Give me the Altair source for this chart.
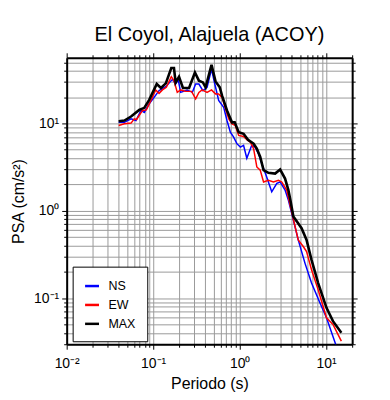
import altair as alt
import pandas as pd

# ---- data ----
ns_T = [0.0399, 0.0465, 0.0555, 0.0632, 0.0723, 0.0789, 0.090, 0.1026, 0.117, 0.140,
        0.167, 0.182, 0.195, 0.208, 0.247, 0.284, 0.310, 0.338, 0.376, 0.420,
        0.473, 0.516, 0.572, 0.654, 0.714, 0.781, 0.852, 0.929, 1.02, 1.11,
        1.21, 1.38, 1.51, 1.65, 1.80, 2.05, 2.35, 2.69, 2.94, 3.35,
        3.66, 4.18, 4.76, 5.69, 6.78, 8.47, 10.1, 13.1, 14.5]
ns_psa = [10.3, 10.3, 11.3, 10.8, 14.1, 13.4, 16.8, 19.9, 23.8, 26.4,
          32.0, 28.3, 31.5, 22.7, 24.2, 22.7, 28.3, 28.3, 23.8, 25.9,
          42.0, 28.3, 18.3, 15.3, 10.8, 7.96, 6.98, 5.87, 5.37, 5.62,
          4.0, 5.62, 5.37, 4.52, 3.48, 2.45, 1.65, 2.06, 2.14, 1.73,
          1.33, 0.785, 0.465, 0.252, 0.149, 0.0885, 0.0597, 0.0283, 0.021]

ew_T = [0.0399, 0.0465, 0.0555, 0.0605, 0.0643, 0.0753, 0.0834, 0.0942, 0.107, 0.117,
        0.128, 0.142, 0.162, 0.174, 0.190, 0.208, 0.238, 0.278, 0.310, 0.338,
        0.368, 0.420, 0.473, 0.526, 0.572, 0.626, 0.686, 0.749, 0.815, 0.889,
        0.975, 1.11, 1.22, 1.33, 1.45, 1.58, 1.73, 1.89, 2.15, 2.46,
        2.81, 3.07, 3.50, 4.18, 4.76, 5.44, 5.94, 6.78, 8.09, 10.1,
        12.0, 15.0]
ew_psa = [9.5, 9.9, 10.1, 11.3, 11.1, 14.1, 14.3, 18.3, 24.2, 22.1,
          24.2, 25.9, 34.3, 30.9, 22.7, 24.2, 23.3, 23.3, 19.1, 22.7,
          24.2, 22.7, 24.2, 21.8, 21.8, 19.9, 14.7, 11.3, 9.9, 9.5,
          7.30, 7.1, 6.5, 6.12, 5.15, 3.18, 2.92, 2.14, 2.24, 2.14,
          2.24, 2.14, 1.73, 0.80, 0.465, 0.390, 0.342, 0.212, 0.125, 0.0597,
          0.050, 0.0323]

max_T = [0.0399, 0.0465, 0.0555, 0.069, 0.0789, 0.090, 0.110, 0.123, 0.140, 0.162,
         0.174, 0.182, 0.199, 0.221, 0.260, 0.304, 0.338, 0.376, 0.404, 0.473,
         0.526, 0.589, 0.626, 0.714, 0.815, 0.877, 0.975, 1.11, 1.25, 1.45,
         1.58, 1.73, 1.89, 2.15, 2.57, 2.94, 3.35, 3.66, 3.86, 4.18,
         5.20, 5.94, 6.78, 8.09, 10.1, 12.0, 15.0]
max_psa = [10.6, 10.8, 12.0, 14.3, 15.1, 18.6, 28.3, 25.5, 28.8, 43.1,
           43.1, 29.5, 34.3, 25.5, 25.5, 38.4, 30.9, 29.5, 25.9, 47.0,
           30.3, 25.9, 20.8, 14.1, 10.3, 10.3, 7.96, 7.63, 6.52, 5.87,
           5.15, 4.13, 2.92, 2.72, 2.67, 2.97, 2.34, 1.73, 1.33, 0.86,
           0.632, 0.465, 0.275, 0.149, 0.0776, 0.0546, 0.0403]

series = ["NS", "EW", "MAX"]
colors = ["#0000ff", "#ff0000", "#000000"]
widths = [1.5, 1.5, 2.6]

x_domain = [0.01, 20]
y_domain = [0.0297, 56.5]
x_ticks = [m * 10.0 ** e for e in (-2, -1, 0, 1) for m in range(1, 10) if m * 10.0 ** e <= 20]
y_ticks = [m * 10.0 ** e for e in (-2, -1, 0, 1) for m in range(1, 10)
           if 0.0297 <= m * 10.0 ** e <= 56.5]

title = "El Coyol, Alajuela (ACOY)"
x_title = "Periodo (s)"
y_title = "PSA (cm/s²)"

rows = []
for name, T, v in (("NS", ns_T, ns_psa), ("EW", ew_T, ew_psa), ("MAX", max_T, max_psa)):
    for t, p in zip(T, v):
        rows.append({"series": name, "T": t, "psa": p})
df = pd.DataFrame(rows)

FONT = "Liberation Sans"
major = "abs(log(datum.value)/LN10 - round(log(datum.value)/LN10)) < 0.000001"
tick_cond = {"condition": {"test": major, "value": 5}, "value": 3}
lab_x = ("datum.value == 0.01 ? '10⁻²' : datum.value == 0.1 ? '10⁻¹' : "
         "datum.value == 1 ? '10⁰' : datum.value == 10 ? '10¹' : ''")

xs = alt.Scale(type="log", domain=x_domain, nice=False)
ys = alt.Scale(type="log", domain=y_domain, nice=False)

common_axis = dict(tickSize=tick_cond, tickColor="black", tickWidth=1,
                   domainColor="black", domainWidth=2, labelFont=FONT,
                   labelFontSize=14, labelColor="black", titleFont=FONT,
                   titleFontSize=16, titleFontWeight="normal", titleColor="black",
                   labelOverlap=False, labelFlush=False)

x_axis = alt.Axis(values=x_ticks, labelExpr=lab_x, grid=True, gridColor="#9a9a9a",
                  gridWidth=1, title=x_title, labelPadding=7, titlePadding=5,
                  **common_axis)
y_axis = alt.Axis(values=y_ticks, labelExpr=lab_x, grid=True, gridColor="#9a9a9a",
                  gridWidth=1, title=y_title, labelPadding=3, titlePadding=7,
                  **common_axis)
x_top = alt.Axis(values=x_ticks, orient="top", labels=False, title=None, grid=False,
                 **common_axis)
y_right = alt.Axis(values=y_ticks, orient="right", labels=False, title=None, grid=False,
                   **common_axis)

color = alt.Color("series:N", scale=alt.Scale(domain=series, range=colors),
                  legend=alt.Legend(title=None, orient="none", legendX=6, legendY=210,
                                    fillColor="white", strokeColor="black", padding=11,
                                    symbolType="stroke", symbolStrokeWidth=2.5,
                                    symbolSize=196, labelFont=FONT, labelFontSize=12.5,
                                    labelColor="black", labelOffset=8, rowPadding=4))

layers = []
for i, name in enumerate(series):
    layers.append(
        alt.Chart(df).transform_filter(alt.datum.series == name)
        .mark_line(strokeWidth=widths[i], clip=True)
        .encode(x=alt.X("T:Q", scale=xs, axis=x_axis if i == 0 else None),
                y=alt.Y("psa:Q", scale=ys, axis=y_axis if i == 0 else None),
                color=color)
    )
frame = (alt.Chart(df).transform_filter(alt.datum.series == "MAX")
         .mark_line(opacity=0, clip=True)
         .encode(x=alt.X("T:Q", scale=xs, axis=x_top),
                 y=alt.Y("psa:Q", scale=ys, axis=y_right)))

chart = (alt.layer(*layers, frame)
         .resolve_axis(x="independent", y="independent")
         .properties(width=287, height=288,
                     title=alt.TitleParams(title, font=FONT, fontSize=20,
                                           fontWeight="normal", color="black",
                                           anchor="middle", offset=7),
                     autosize=alt.AutoSizeParams(type="none"),
                     padding={"left": 59, "top": 49, "right": 30, "bottom": 50})
         .configure_view(stroke="black", strokeWidth=2)
         .configure_legend(strokeWidth=2)
         .configure(background="white"))

chart.save("out.html", embed_options={"renderer": "svg", "actions": False})
